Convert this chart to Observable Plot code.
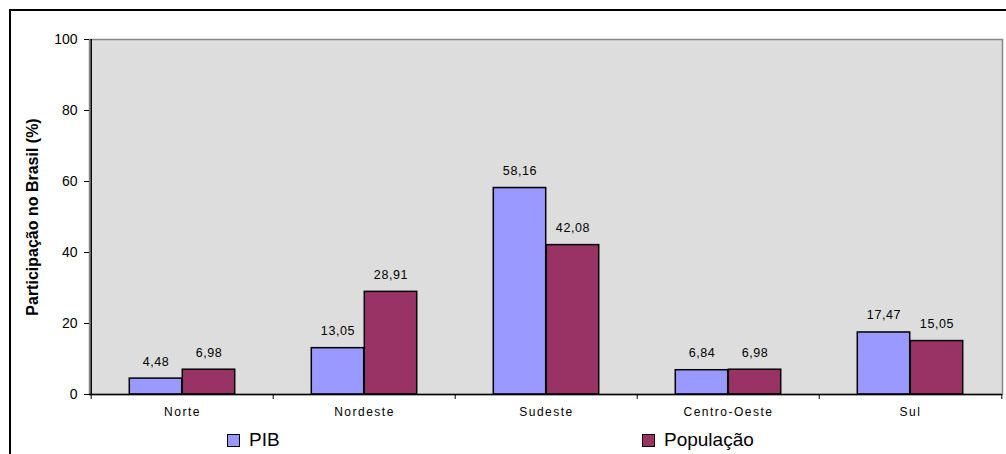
<!DOCTYPE html>
<html>
<head>
<meta charset="utf-8">
<script src="https://cdn.jsdelivr.net/npm/d3@7"></script>
<script src="https://cdn.jsdelivr.net/npm/@observablehq/plot@0.6"></script>
<style>
  html, body { margin: 0; padding: 0; background: #fff; }
  #wrap { position: relative; width: 1006px; height: 454px; overflow: hidden; font-family: "Liberation Sans", Arial, sans-serif; }
  #frame { position: absolute; left: 9px; top: 9px; width: 1100px; height: 600px; border-left: 2px solid #000; border-top: 2px solid #000; }
  #chart { position: absolute; left: 0; top: 0; }
  #legend { position: absolute; top: 429px; left: 0; width: 1006px; height: 22px; font-size: 19px; color: #000; }
  .item { position: absolute; top: 0; display: flex; align-items: center; gap: 9px; }
  .swatch { width: 11px; height: 11px; border: 1px solid #000; }
</style>
</head>
<body>
<div id="wrap">
  <div id="frame"></div>
  <div id="chart"></div>
  <div id="legend"></div>
</div>
<script>
// Regional share of Brazil's GDP (PIB) and population, in percent
const regions = ["Norte", "Nordeste", "Sudeste", "Centro-Oeste", "Sul"];
const pib = [4.48, 13.05, 58.16, 6.84, 17.47];
const populacao = [6.98, 28.91, 42.08, 6.98, 15.05];
const seriesNames = ["PIB", "População"];
const seriesColors = ["#9999FF", "#993366"];
const yTicks = [0, 20, 40, 60, 80, 100];

const rows = regions.flatMap((r, i) => [
  {region: r, series: "PIB", value: pib[i]},
  {region: r, series: "População", value: populacao[i]}
]);

const width = 1006, height = 425;
const marginLeft = 89, marginRight = 4, marginTop = 39, marginBottom = 31;
const step = (width - marginLeft - marginRight) / regions.length;
const barW = step / 3.445;
const outer = step / 2 - barW;

const fmt = v => d3.format(".2f")(v).replace(".", ",");
const sideInset = s => s === "PIB"
  ? {insetLeft: outer, insetRight: step / 2}
  : {insetLeft: step / 2, insetRight: outer};

const chart = Plot.plot({
  width, height, marginLeft, marginRight, marginTop, marginBottom,
  style: {fontFamily: "'Liberation Sans', Arial, sans-serif", fontSize: "12px", color: "#000", background: "transparent"},
  x: {domain: regions, padding: 0, axis: null},
  y: {domain: [0, 100], axis: null},
  color: {domain: seriesNames, range: seriesColors},
  marks: [
    Plot.frame({fill: "#DDDDDD", stroke: "#888888", strokeWidth: 1.5}),
    ...seriesNames.map(s => Plot.barY(rows.filter(d => d.series === s), {
      x: "region", y: "value", fill: "series", stroke: "#000", strokeWidth: 1.5,
      ...sideInset(s)
    })),
    ...seriesNames.map((s, k) => Plot.text(rows.filter(d => d.series === s), {
      x: "region", y: "value", text: d => fmt(d.value),
      dx: (k === 0 ? -1 : 1) * (barW / 2), dy: -17,
      fontSize: 12.5, fill: "#000", className: "value-label"
    })),
    // category boundary ticks below the baseline
    Plot.ruleX(regions, {x: d => d, dx: -step / 2, y1: 0, y2: 0, insetTop: 0, insetBottom: -5, stroke: "#000"}),
    Plot.ruleX(regions.slice(-1), {x: d => d, dx: step / 2, y1: 0, y2: 0, insetTop: 0, insetBottom: -5, stroke: "#000"}),
    Plot.axisX({tickSize: 0, tickPadding: 13, fontSize: 12, label: null}),
    Plot.axisY({ticks: yTicks, tickSize: 5, tickPadding: 7, fontSize: 14, label: null, tickFormat: d => d}),
    Plot.ruleY([0], {stroke: "#000", strokeWidth: 1.5}),
    Plot.ruleX([regions[0]], {x: d => d, dx: -step / 2, stroke: "#000", strokeWidth: 1.5}),
    Plot.text(["Participação no Brasil (%)"], {
      frameAnchor: "left", dx: -57, rotate: -90, text: d => d, textAnchor: "middle",
      fontSize: 16, fontWeight: "bold", fill: "#000"
    })
  ]
});

// widen the letter spacing of the category names and value labels
d3.select(chart).selectAll('[aria-label="x-axis tick label"] text').style("letter-spacing", "1.5px");
d3.select(chart).selectAll('.value-label text').style("letter-spacing", "0.6px");
d3.select(chart).selectAll('[aria-label="y-axis tick label"] text').style("font-size", "14px");
document.getElementById("chart").appendChild(chart);

// legend below the plot
const legend = document.getElementById("legend");
const legendX = [227, 642];
seriesNames.forEach((s, i) => {
  const item = document.createElement("div");
  item.className = "item";
  item.style.left = legendX[i] + "px";
  const sw = document.createElement("div");
  sw.className = "swatch";
  sw.style.background = seriesColors[i];
  const label = document.createElement("span");
  label.textContent = s;
  item.append(sw, label);
  legend.appendChild(item);
});
</script>
</body>
</html>
